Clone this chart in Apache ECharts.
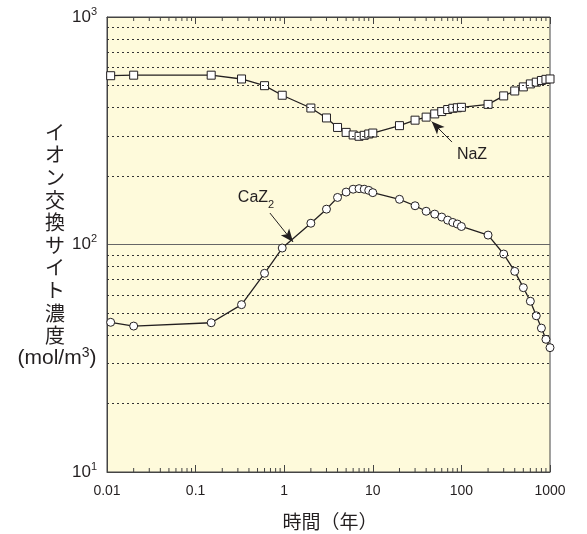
<!DOCTYPE html>
<html>
<head>
<meta charset="utf-8">
<script src="https://cdn.jsdelivr.net/npm/echarts@6/dist/echarts.min.js"></script>
<style>
  html, body { margin: 0; padding: 0; background: #fff; }
  #chart { width: 587px; height: 534px; }
</style>
</head>
<body>
<div id="chart"></div>
<script>
// time (years)
var times = [0.011, 0.02, 0.15, 0.33, 0.6, 0.95, 2, 3, 4, 5, 6, 7, 8, 9, 10,
    20, 30, 40, 50, 60, 70, 80, 90, 100, 200, 300, 400, 500, 600, 700, 800, 900, 1000];
// NaZ (mol/m3)
var nazValues = [552, 555, 555, 534, 499, 453, 398, 360, 327, 311, 303, 299, 302, 306, 309,
    333, 352, 363, 375, 384, 392, 397, 399, 401, 413, 450, 473, 493, 508, 517, 526, 532, 534];
// CaZ2 (mol/m3)
var cazValues = [45.5, 43.8, 45.3, 54.4, 74.7, 96.5, 124, 143, 161, 170, 175, 176, 175, 173, 169,
    158, 148, 140, 136, 132, 128, 125, 123, 120, 110, 90.8, 76.2, 64.6, 56.3, 48.6, 42.9, 38.3, 35.2];

// minor grid / tick positions
var minorY = [20, 30, 40, 50, 60, 70, 80, 90, 200, 300, 400, 500, 600, 700, 800, 900];
var minorX = [0.02, 0.03, 0.04, 0.05, 0.06, 0.07, 0.08, 0.09,
    0.2, 0.3, 0.4, 0.5, 0.6, 0.7, 0.8, 0.9,
    2, 3, 4, 5, 6, 7, 8, 9,
    20, 30, 40, 50, 60, 70, 80, 90,
    200, 300, 400, 500, 600, 700, 800, 900];

var ink = '#231f20';
var latin = 'Liberation Sans';
var jp = 'Noto Sans CJK JP';

var myChart = echarts.init(document.getElementById('chart'));

var option = {
    animation: false,
    grid: {
        left: 107, right: 37, top: 17, bottom: 62,
        show: true,
        backgroundColor: '#fefadb',
        borderColor: '#444',
        borderWidth: 1
    },
    xAxis: [
        {
            type: 'log', logBase: 10, min: 0.01, max: 1000,
            axisLine: { show: true, lineStyle: { color: '#444' } },
            axisTick: { show: true, inside: true, length: 7, lineStyle: { color: '#444' } },
            splitLine: { show: false },
            axisLabel: {
                margin: 12, color: ink, fontFamily: latin, fontSize: 14,
                formatter: function (v) { return String(Number(v.toPrecision(3))); }
            }
        },
        {
            type: 'log', logBase: 10, min: 0.01, max: 1000, position: 'top',
            axisLine: { show: true, lineStyle: { color: '#444' } },
            axisTick: { show: true, inside: true, length: 7, lineStyle: { color: '#444' } },
            splitLine: { show: false },
            axisLabel: { show: false }
        }
    ],
    yAxis: {
        type: 'log', logBase: 10, min: 10, max: 1000,
        axisLine: { show: true, lineStyle: { color: '#444' } },
        axisTick: { show: false },
        splitLine: { show: true, lineStyle: { color: '#666', width: 1 } },
        axisLabel: {
            margin: 10, color: ink, fontFamily: latin,
            formatter: function (v) {
                return '{b|10}{s|' + Math.round(Math.log10(v)) + '}';
            },
            rich: {
                b: { fontSize: 17, lineHeight: 22, fontFamily: latin, color: ink },
                s: { fontSize: 11, verticalAlign: 'top', fontFamily: latin, color: ink }
            }
        }
    },
    graphic: [
        {
            type: 'text', left: 45, top: 121,
            style: {
                text: 'イ\nオ\nン\n交\n換\nサ\nイ\nト\n濃\n度',
                font: '20px "' + jp + '"', lineHeight: 22.6, fill: ink, align: 'center'
            }
        },
        {
            type: 'text', x: 57, y: 358,
            style: {
                text: '({a|mol/m}{s|3})',
                font: '21px "' + latin + '"', fill: ink, align: 'center', verticalAlign: 'middle',
                rich: {
                    a: { fontSize: 21, fontFamily: latin, lineHeight: 24 },
                    s: { fontSize: 14, fontFamily: latin, verticalAlign: 'top' }
                }
            }
        },
        {
            type: 'text', x: 330, y: 522,
            style: {
                text: '時間（年）', font: '19px "' + jp + '"', fill: ink,
                align: 'center', verticalAlign: 'middle'
            }
        },
        {
            type: 'text', x: 256, y: 200,
            style: {
                text: '{a|CaZ}{s|2}', fill: ink, align: 'center', verticalAlign: 'middle',
                rich: {
                    a: { fontSize: 16, fontFamily: latin, lineHeight: 20, verticalAlign: 'top' },
                    s: { fontSize: 11, fontFamily: latin, verticalAlign: 'bottom' }
                }
            }
        },
        {
            type: 'text', x: 472, y: 155,
            style: {
                text: 'NaZ', font: '16px "' + latin + '"', fill: ink,
                align: 'center', verticalAlign: 'middle'
            }
        }
    ],
    series: [
        {
            name: 'grid',
            type: 'line',
            data: [],
            markLine: {
                silent: true,
                symbol: ['none', 'none'],
                label: { show: false },
                lineStyle: { color: '#333', width: 1, type: [2, 3] },
                data: minorY.map(function (v) { return { yAxis: v }; })
            }
        },
        {
            name: 'minorTicks',
            type: 'custom',
            silent: true,
            data: minorX.map(function (v) { return [v, 100]; }),
            renderItem: function (params, api) {
                var b = api.coord([api.value(0), 10]);
                var t = api.coord([api.value(0), 1000]);
                var st = { stroke: '#444', lineWidth: 1 };
                return {
                    type: 'group',
                    children: [
                        { type: 'line', shape: { x1: b[0], y1: b[1], x2: b[0], y2: b[1] - 4 }, style: st },
                        { type: 'line', shape: { x1: t[0], y1: t[1], x2: t[0], y2: t[1] + 4 }, style: st }
                    ]
                };
            }
        },
        {
            name: 'NaZ',
            type: 'line',
            data: times.map(function (t, i) { return [t, nazValues[i]]; }),
            symbol: 'rect',
            symbolSize: 8,
            showAllSymbol: true,
            lineStyle: { color: ink, width: 1.3 },
            itemStyle: { color: '#fff', borderColor: ink, borderWidth: 1 },
            markLine: {
                silent: true,
                symbol: ['none', 'arrow'],
                symbolSize: [8, 13],
                label: { show: false },
                lineStyle: { color: ink, width: 1, type: 'solid' },
                data: [[{ coord: [78.3, 282] }, { coord: [46.2, 347] }]]
            }
        },
        {
            name: 'CaZ2',
            type: 'line',
            data: times.map(function (t, i) { return [t, cazValues[i]]; }),
            symbol: 'circle',
            symbolSize: 8,
            showAllSymbol: true,
            lineStyle: { color: ink, width: 1.3 },
            itemStyle: { color: '#fff', borderColor: ink, borderWidth: 1 },
            markLine: {
                silent: true,
                symbol: ['none', 'arrow'],
                symbolSize: [8, 13],
                label: { show: false },
                lineStyle: { color: ink, width: 1, type: 'solid' },
                data: [[{ coord: [0.69, 137.5] }, { coord: [1.26, 102.6] }]]
            }
        }
    ]
};

myChart.setOption(option);
</script>
</body>
</html>
